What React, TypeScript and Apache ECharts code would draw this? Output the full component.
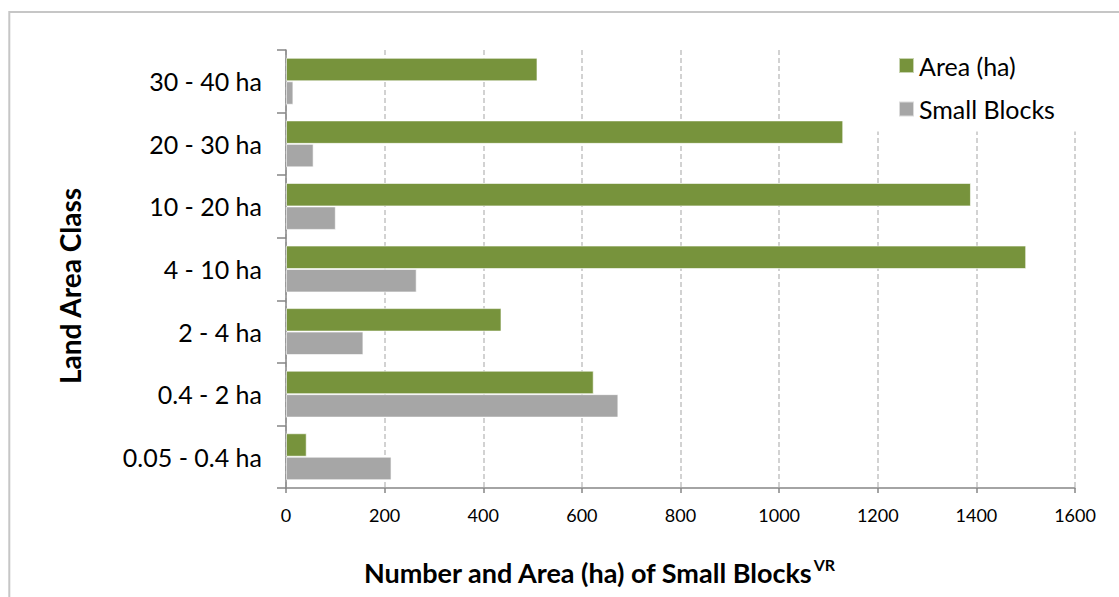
import React, { useEffect, useRef } from "react";
import * as echarts from "echarts";

const categories = ["0.05 - 0.4 ha", "0.4 - 2 ha", "2 - 4 ha", "4 - 10 ha", "10 - 20 ha", "20 - 30 ha", "30 - 40 ha"];
const areaHa = [42, 624, 437, 1501, 1389, 1130, 510];
const smallBlocks = [214, 674, 157, 265, 101, 56, 15];
const xTicks = { min: 0, max: 1600, interval: 200 };

const FONT = "Lato";

export default function App() {
  const ref = useRef<HTMLDivElement>(null);
  useEffect(() => {
    if (!ref.current) return;
    const chart = echarts.init(ref.current, null, { renderer: "svg" });
    chart.setOption({
      animation: false,
      backgroundColor: "#ffffff",
      textStyle: { fontFamily: FONT },
      grid: { left: 286, right: 44, top: 50, bottom: 109, containLabel: false },
      legend: {
        orient: "vertical",
        left: 870,
        top: 39,
        padding: [14, 30, 10, 28],
        backgroundColor: "#ffffff",
        icon: "rect",
        itemWidth: 15,
        itemHeight: 15,
        itemGap: 18.5,
        data: ["Area (ha)", "Small Blocks"],
        textStyle: { fontFamily: FONT, fontSize: 25, color: "#000" },
        z: 5,
      },
      xAxis: {
        type: "value",
        min: xTicks.min,
        max: xTicks.max,
        interval: xTicks.interval,
        axisLine: { show: true, lineStyle: { color: "#868686", width: 1.5 } },
        axisTick: { show: true, length: 5, lineStyle: { color: "#868686", width: 1.5 } },
        axisLabel: { fontFamily: FONT, fontSize: 18, color: "#000", margin: 18, formatter: (v: number) => String(v) },
        splitLine: { show: true, lineStyle: { color: "#c4c4c4", width: 1.5, type: [5, 3] } },
      },
      yAxis: {
        type: "category",
        data: categories,
        axisLine: { show: true, lineStyle: { color: "#868686", width: 1.5 } },
        axisTick: { show: true, length: 9, lineStyle: { color: "#868686", width: 1.5 } },
        axisLabel: { fontFamily: FONT, fontSize: 25, color: "#000", margin: 24 },
        splitLine: { show: false },
      },
      series: [
        {
          name: "Area (ha)",
          type: "bar",
          data: areaHa,
          barGap: "0%",
          barCategoryGap: "25%",
          itemStyle: { color: "#77933c", borderColor: "rgba(255,255,255,0.6)", borderWidth: 1 },
        },
        {
          name: "Small Blocks",
          type: "bar",
          data: smallBlocks,
          barGap: "0%",
          barCategoryGap: "25%",
          itemStyle: { color: "#a6a6a6", borderColor: "rgba(255,255,255,0.6)", borderWidth: 1 },
        },
      ],
      graphic: [
        {
          type: "rect",
          z: -10,
          silent: true,
          shape: { x: 9.3, y: 12, width: 1300, height: 800 },
          style: { fill: "none", stroke: "#c6c6c6", lineWidth: 2 },
        },
        {
          type: "text",
          x: 70,
          y: 286,
          rotation: Math.PI / 2,
          style: {
            text: "Land Area Class",
            fontFamily: FONT,
            fontWeight: "bold",
            fontSize: 28,
            fill: "#000",
            align: "center",
            verticalAlign: "middle",
          },
        },
        {
          type: "text",
          x: 599,
          y: 572,
          style: {
            text: "{a|Number and Area (ha) of Small Blocks}{b|VR}",
            align: "center",
            verticalAlign: "middle",
            rich: {
              a: { fontFamily: FONT, fontWeight: "bold", fontSize: 27, fill: "#000", lineHeight: 32 },
              b: { fontFamily: FONT, fontWeight: "bold", fontSize: 16, fill: "#000", verticalAlign: "top", padding: [0, 0, 12, 1] },
            },
          },
        },
      ],
    });
    return () => chart.dispose();
  }, []);
  return <div ref={ref} style={{ position: "fixed", left: 0, top: 0, width: 1119, height: 597 }} />;
}
